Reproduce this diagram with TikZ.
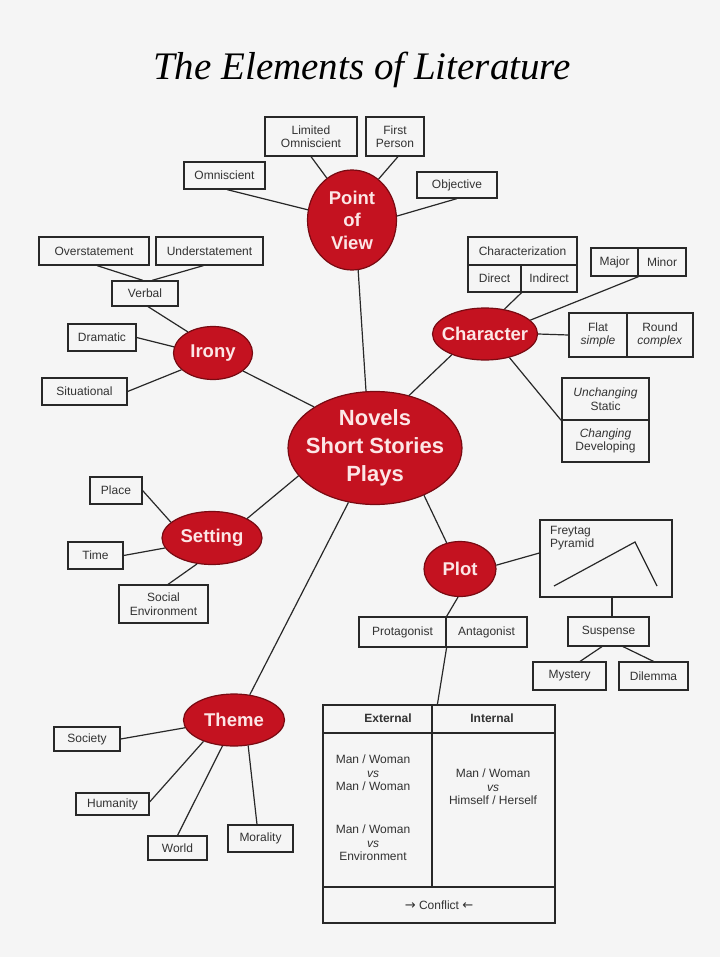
\documentclass[tikz,border=0pt]{standalone}
\usepackage{fontspec}
\setmainfont{Liberation Sans}
\newfontfamily\titlefont{Liberation Serif}
\newfontfamily\arrowfont{DejaVu Sans}
\usetikzlibrary{shapes.geometric}
\definecolor{bgc}{RGB}{245,245,245}
\definecolor{linec}{RGB}{40,40,40}
\definecolor{txtc}{RGB}{50,50,50}
\definecolor{redfill}{RGB}{196,18,32}
\definecolor{redline}{RGB}{120,10,18}
\definecolor{pinkw}{RGB}{252,230,230}
\tikzset{
  box/.style={draw=linec, line width=1.2pt, inner sep=0pt, align=center, text=txtc,
    font=\fontsize{12}{13.5}\selectfont},
  topic/.style={ellipse, draw=redline, line width=1.2pt, fill=redfill, inner sep=0pt},
  topiclbl/.style={text=pinkw, align=center, inner sep=0pt,
    font=\bfseries\fontsize{18.5}{22.5}\selectfont},
  link/.style={draw=linec, line width=1.2pt},
  cell/.style={text=txtc, align=center, inner sep=0pt, font=\fontsize{12}{13.5}\selectfont},
}
\begin{document}
\begin{tikzpicture}[x=1pt,y=-1pt]
\useasboundingbox (0,0) rectangle (720,957);
\fill[bgc] (0,0) rectangle (720,957);

% title
\node[anchor=base, inner sep=0pt, font=\titlefont\itshape\fontsize{39}{44}\selectfont, text=black] (title) at (362,80) {The Elements of Literature};

% topics
\node[topic, minimum width=89pt, minimum height=100pt] (pov) at (352,220) {};
\node[topiclbl] (povl) at (pov) {Point\\of\\View};
\node[topic, minimum width=174pt, minimum height=113pt] (cen) at (375,448) {};
\node[topiclbl, font=\bfseries\fontsize{22}{28}\selectfont] (cenl) at (cen) {Novels\\Short Stories\\Plays};
\node[topic, minimum width=105pt, minimum height=52pt] (char) at (485,334) {};
\node[topiclbl] (charl) at (char) {Character};
\node[topic, minimum width=79pt, minimum height=53pt] (irony) at (213,353) {};
\node[topiclbl] (ironyl) at (irony) {Irony};
\node[topic, minimum width=100pt, minimum height=53pt] (set) at (212,538) {};
\node[topiclbl] (setl) at (set) {Setting};
\node[topic, minimum width=72pt, minimum height=55pt] (plot) at (460,569) {};
\node[topiclbl] (plotl) at (plot) {Plot};
\node[topic, minimum width=101pt, minimum height=52pt] (theme) at (234,720) {};
\node[topiclbl] (themel) at (theme) {Theme};

% point of view boxes
\node[box, minimum width=92pt, minimum height=39pt] (limom) at (311,136.5) {Limited\\Omniscient};
\node[box, minimum width=58pt, minimum height=39pt] (first) at (395,136.5) {First\\Person};
\node[box, minimum width=81pt, minimum height=27pt] (omni) at (224.5,175.5) {Omniscient};
\node[box, minimum width=80pt, minimum height=26pt] (obj) at (457,185) {Objective};

% irony boxes
\node[box, minimum width=110pt, minimum height=28pt] (over) at (94,251) {Overstatement};
\node[box, minimum width=107pt, minimum height=28pt] (under) at (209.5,251) {Understatement};
\node[box, minimum width=66pt, minimum height=25pt] (verbal) at (145,293.5) {Verbal};
\node[box, minimum width=68pt, minimum height=27pt] (dram) at (102,337.5) {Dramatic};
\node[box, minimum width=85pt, minimum height=27pt] (sit) at (84.5,391.5) {Situational};

% character boxes
\node[box, minimum width=109pt, minimum height=28pt] (charz) at (522.5,251) {Characterization};
\node[box, minimum width=53pt, minimum height=27pt] (direct) at (494.5,278.5) {Direct};
\node[box, minimum width=56pt, minimum height=27pt] (indirect) at (549,278.5) {Indirect};
\node[box, minimum width=47pt, minimum height=28pt] (major) at (614.5,262) {Major};
\node[box, minimum width=48pt, minimum height=28pt] (minor) at (662,262) {Minor};
\node[box, minimum width=58pt, minimum height=44pt] (flat) at (598,335) {Flat\\\textit{simple}};
\node[box, minimum width=66pt, minimum height=44pt] (round) at (660,335) {Round\\\textit{complex}};
\node[box, minimum width=87pt, minimum height=42pt] (unch) at (605.5,399) {\textit{Unchanging}\\Static};
\node[box, minimum width=87pt, minimum height=42pt] (chg) at (605.5,441) {\textit{Changing}\\Developing};

% setting boxes
\node[box, minimum width=52pt, minimum height=27pt] (place) at (116,490.5) {Place};
\node[box, minimum width=55pt, minimum height=27pt] (time) at (95.5,555.5) {Time};
\node[box, minimum width=89pt, minimum height=38pt] (social) at (163.5,604) {Social\\Environment};

% plot boxes
\node[box, minimum width=132pt, minimum height=77pt] (frey) at (606,558.5) {};
\node[cell, anchor=north west, align=left] (freyl) at (550,526) {Freytag\\Pyramid};
\node[box, minimum width=81pt, minimum height=29pt] (susp) at (608.5,631.5) {Suspense};
\node[box, minimum width=73pt, minimum height=28pt] (myst) at (569.5,676) {Mystery};
\node[box, minimum width=69pt, minimum height=28pt] (dil) at (653.5,676) {Dilemma};
\node[box, minimum width=87pt, minimum height=30pt] (prot) at (402.5,632) {Protagonist};
\node[box, minimum width=81pt, minimum height=30pt] (antag) at (486.5,632) {Antagonist};

% conflict table
\node[box, minimum width=109pt, minimum height=28pt] (exth) at (377.5,719) {};
\node[box, minimum width=123pt, minimum height=28pt] (inth) at (493.5,719) {};
\node[box, minimum width=109pt, minimum height=154pt] (extb) at (377.5,810) {};
\node[box, minimum width=123pt, minimum height=154pt] (intb) at (493.5,810) {};
\node[box, minimum width=232pt, minimum height=36pt] (foot) at (439,905) {};
\node[cell, font=\bfseries\fontsize{12}{13.5}\selectfont] (extl) at (388,718) {External};
\node[cell, font=\bfseries\fontsize{12}{13.5}\selectfont] (intl) at (492,718) {Internal};
\node[cell] (ext1) at (373,773) {Man / Woman\\\textit{vs}\\Man / Woman};
\node[cell] (ext2) at (373,843) {Man / Woman\\\textit{vs}\\Environment};
\node[cell] (int1) at (493,787) {Man / Woman\\\textit{vs}\\Himself / Herself};
\node[cell] (footl) at (439,905) {{\arrowfont\fontsize{13}{13.5}\selectfont →} Conflict {\arrowfont\fontsize{13}{13.5}\selectfont ←}};

% theme boxes
\node[box, minimum width=66pt, minimum height=24pt] (society) at (87,739) {Society};
\node[box, minimum width=73pt, minimum height=22pt] (hum) at (112.5,804) {Humanity};
\node[box, minimum width=59pt, minimum height=24pt] (world) at (177.5,848) {World};
\node[box, minimum width=65pt, minimum height=27pt] (moral) at (260.5,838.5) {Morality};

% freytag pyramid
\draw[link] (554,586) -- (635,542) -- (657,586);

% connectors: center
\draw[link] (pov.277) -- (cen.99);
\draw[link] (char.212) -- (cen.57);
\draw[link] (irony.329) -- (cen.146);
\draw[link] (set.29) -- (cen.200);
\draw[link] (theme.58) -- (cen.244);
\draw[link] (plot.117) -- (cen.316);

% point of view
\draw[link] ([xshift=2.5pt]omni.south) -- (pov.167);
\draw[link] (limom.south) -- (pov.121);
\draw[link] ([xshift=3pt]first.south) -- (pov.57);
\draw[link] (obj.south) -- (pov.5);

% irony
\draw[link] ([xshift=3pt]over.south) -- ([xshift=-2pt]verbal.north);
\draw[link] ([xshift=-6pt]under.south) -- ([xshift=7pt]verbal.north);
\draw[link] ([xshift=3pt]verbal.south) -- (irony.140);
\draw[link] (dram.east) -- (irony.171);
\draw[link] (sit.east) -- (irony.208);

% character
\draw[link] (direct.south east) -- (char.52);
\draw[link] (major.south east) -- (char.17);
\draw[link] (flat.west) -- (char.0);
\draw[link] (unch.south west) -- (char.316);

% setting
\draw[link] (place.east) -- (set.159);
\draw[link] (time.east) -- (set.192);
\draw[link] ([xshift=4.5pt]social.north) -- (set.240);

% plot
\draw[link] (plot.6) -- ([yshift=5.5pt]frey.west);
\draw[link] ([xshift=6pt]frey.south) -- ([xshift=3.5pt]susp.north);
\draw[link] ([xshift=-6.5pt]susp.south) -- ([xshift=10.5pt]myst.north);
\draw[link] ([xshift=14.5pt]susp.south) -- (dil.north);
\draw[link] (plot.266) -- (prot.north east);
\draw[link] (prot.south east) -- ([xshift=6pt]inth.north west);

% theme
\draw[link] (society.east) -- (theme.189);
\draw[link] ([yshift=2pt]hum.east) -- (theme.215);
\draw[link] (world.north) -- (theme.246);
\draw[link] ([xshift=-3.5pt]moral.north) -- (theme.299);
\end{tikzpicture}
\end{document}
